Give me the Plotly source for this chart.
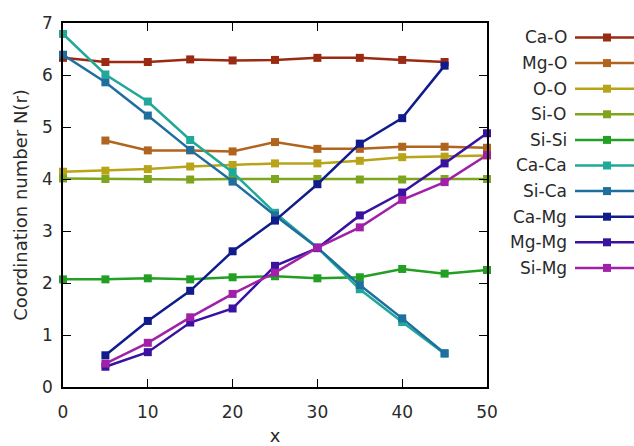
import plotly.graph_objects as go

W, H = 634, 446
L, R, T, B = 63, 147, 23, 59

x_all = [0, 5, 10, 15, 20, 25, 30, 35, 40, 45, 50]

names = ["Ca-O", "Mg-O", "O-O", "Si-O", "Si-Si", "Ca-Ca", "Si-Ca", "Ca-Mg", "Mg-Mg", "Si-Mg"]
colors = ["#9A2A12", "#B0641E", "#B8A418", "#7EA51E", "#23A023",
          "#20A898", "#1E6E9E", "#101C8C", "#3A12A0", "#A020A8"]

ca_o_x = [0, 5, 10, 15, 20, 25, 30, 35, 40, 45]
ca_o = [6.33, 6.25, 6.25, 6.30, 6.28, 6.29, 6.33, 6.33, 6.29, 6.25]
mg_o_x = [5, 10, 15, 20, 25, 30, 35, 40, 45, 50]
mg_o = [4.74, 4.55, 4.55, 4.53, 4.71, 4.58, 4.58, 4.62, 4.62, 4.60]
o_o_x = x_all
o_o = [4.14, 4.16, 4.19, 4.24, 4.27, 4.30, 4.30, 4.35, 4.42, 4.43, 4.45]
si_o_x = x_all
si_o = [4.01, 4.00, 4.00, 3.99, 4.00, 4.00, 4.00, 3.99, 3.99, 4.00, 4.00]
si_si_x = x_all
si_si = [2.07, 2.07, 2.09, 2.07, 2.11, 2.13, 2.09, 2.11, 2.27, 2.18, 2.25]
ca_ca_x = [0, 5, 10, 15, 20, 25, 30, 35, 40, 45]
ca_ca = [6.79, 6.01, 5.49, 4.75, 4.13, 3.35, 2.68, 1.88, 1.25, 0.64]
si_ca_x = [0, 5, 10, 15, 20, 25, 30, 35, 40, 45]
si_ca = [6.39, 5.86, 5.22, 4.56, 3.95, 3.30, 2.68, 1.96, 1.32, 0.65]
ca_mg_x = [5, 10, 15, 20, 25, 30, 35, 40, 45]
ca_mg = [0.61, 1.27, 1.85, 2.61, 3.20, 3.90, 4.68, 5.17, 6.18]
mg_mg_x = [5, 10, 15, 20, 25, 30, 35, 40, 45, 50]
mg_mg = [0.39, 0.67, 1.24, 1.51, 2.33, 2.67, 3.30, 3.74, 4.30, 4.88]
si_mg_x = [5, 10, 15, 20, 25, 30, 35, 40, 45, 50]
si_mg = [0.45, 0.85, 1.34, 1.79, 2.20, 2.68, 3.07, 3.60, 3.94, 4.46]

series = [(ca_o_x, ca_o), (mg_o_x, mg_o), (o_o_x, o_o), (si_o_x, si_o), (si_si_x, si_si),
          (ca_ca_x, ca_ca), (si_ca_x, si_ca), (ca_mg_x, ca_mg), (mg_mg_x, mg_mg), (si_mg_x, si_mg)]

x_ticks = [0, 10, 20, 30, 40, 50]
y_ticks = [0, 1, 2, 3, 4, 5, 6, 7]

FONT = "DejaVu Sans"
TXT = "#2a2a2a"

fig = go.Figure()
for name, col, (xs, ys) in zip(names, colors, series):
    fig.add_trace(go.Scatter(
        x=xs, y=ys, mode="lines+markers", name=name,
        line=dict(color=col, width=2.5),
        marker=dict(symbol="square", size=8, color=col),
        cliponaxis=False, showlegend=False))

pw = W - L - R
ph = H - T - B
def px2paper_x(px):
    return (px - L) / pw
def px2paper_y(py):
    return 1 - (py - T) / ph

shapes = []
annotations = []
leg_y0 = 37.5
leg_dy = 25.6
for i, (name, col) in enumerate(zip(names, colors)):
    yy = px2paper_y(leg_y0 + i * leg_dy)
    annotations.append(dict(
        x=px2paper_x(569), y=yy, xref="paper", yref="paper",
        text=name, showarrow=False, xanchor="right", yanchor="middle",
        font=dict(family=FONT, size=17, color=TXT)))
    shapes.append(dict(type="line", xref="paper", yref="paper",
                       x0=px2paper_x(575), x1=px2paper_x(640), y0=yy, y1=yy,
                       line=dict(color=col, width=2.5)))
    shapes.append(dict(type="rect", xref="paper", yref="paper",
                       x0=px2paper_x(603), x1=px2paper_x(611),
                       y0=yy - 4 / ph, y1=yy + 4 / ph,
                       fillcolor=col, line=dict(width=0)))

axis_common = dict(
    showgrid=False, zeroline=False, showline=True, linecolor="black", linewidth=1.5,
    mirror="allticks", ticks="inside", ticklen=8, tickcolor="black", tickwidth=1,
    tickfont=dict(family=FONT, size=17, color=TXT), automargin=False,
)

fig.update_layout(
    width=W, height=H,
    margin=dict(l=L, r=R, t=T, b=B, autoexpand=False),
    paper_bgcolor="white", plot_bgcolor="white",
    xaxis=dict(range=[0, 50], tickvals=x_ticks, ticklabelstandoff=9,
               title=dict(text="x", font=dict(family=FONT, size=18, color=TXT), standoff=12),
               **axis_common),
    yaxis=dict(range=[0, 7], tickvals=y_ticks, ticklabelstandoff=5,
               title=dict(text="Coordination number N(r)", font=dict(family=FONT, size=18, color=TXT), standoff=10),
               **axis_common),
    shapes=shapes, annotations=annotations,
    showlegend=False,
)

fig.write_html("out.html")
